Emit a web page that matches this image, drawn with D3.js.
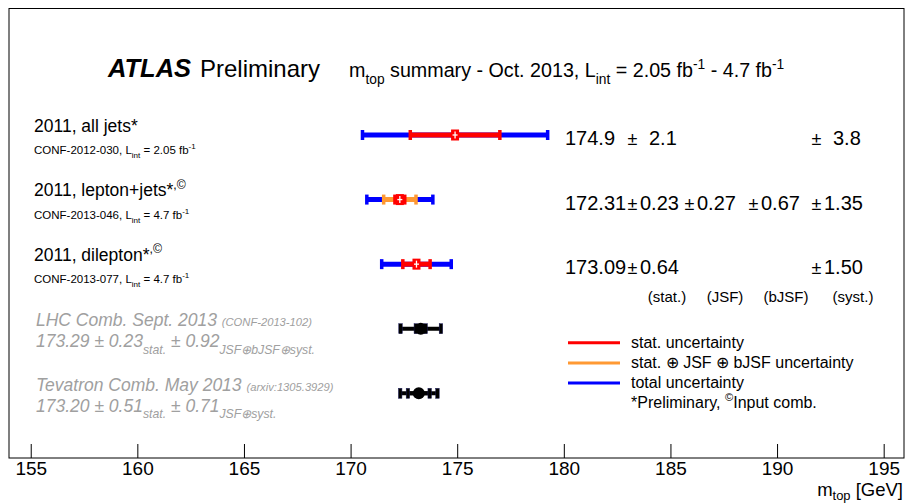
<!DOCTYPE html>
<html>
<head>
<meta charset="utf-8">
<script src="https://cdn.jsdelivr.net/npm/d3@7"></script>
<style>
  html, body { margin: 0; padding: 0; background: #fff; }
  svg { display: block; font-family: "Liberation Sans", Arial, Helvetica, sans-serif; }
</style>
</head>
<body>
<svg id="chart" width="906" height="504"></svg>
<script>
// ---------------- DATA ----------------
const measNames   = ["2011, all jets", "2011, lepton+jets", "2011, dilepton"];
const measMarks   = ["*", "*", "*"];
const measSup     = ["", ",©", ",©"];
const measRefs    = ["CONF-2012-030", "CONF-2013-046", "CONF-2013-077"];
const measLumi    = ["2.05", "4.7", "4.7"];
const measCentral = [174.9, 172.31, 173.09];
const measStat    = [2.1, 0.23, 0.64];
const measJSF     = [null, 0.27, null];
const measBJSF    = [null, 0.67, null];
const measSyst    = [3.8, 1.35, 1.50];
const measDecimals = [1, 2, 2];

const comboNames    = ["LHC Comb. Sept. 2013", "Tevatron Comb. May 2013"];
const comboRefs     = ["(CONF-2013-102)", "(arxiv:1305.3929)"];
const comboCentral  = [173.29, 173.20];
const comboStat     = [0.23, 0.51];
const comboSyst     = [0.92, 0.71];
const comboSystLbl  = ["JSF⊕bJSF⊕syst.", "JSF⊕syst."];

const columnLabels = ["(stat.)", "(JSF)", "(bJSF)", "(syst.)"];
const xTicks = [155, 160, 165, 170, 175, 180, 185, 190, 195];
const legendLabels = ["stat. uncertainty", "stat. ⊕ JSF ⊕ bJSF uncertainty", "total uncertainty"];

// ---------------- SETUP ----------------
const svg = d3.select("#chart");
const RED = "#ff0000", ORANGE = "#ff9933", BLUE = "#0000ff", GRAY = "#a0a0a0";

svg.append("rect").attr("width", 906).attr("height", 504).attr("fill", "#fff");

const x = d3.scaleLinear().domain([154, 196]).range([9.4, 905]);
const rowY = d3.scalePoint().domain([0, 1, 2, 3, 4]).range([135, 393.3]);

// rich text helper: parts = [[text, mode, sizeFactor]]
function rich(sel, parts, base, subOff) {
  let cur = 0;
  parts.forEach(p => {
    const [t, mode, sf] = p;
    let off = 0, size = base;
    if (mode === "sub") { off = (subOff || 0.36) * base; size = base * (sf || 0.7); }
    else if (mode === "sup") { off = -0.42 * base; size = base * (sf || 0.7); }
    else if (sf) size = base * sf;
    sel.append("tspan").attr("dy", off - cur).attr("font-size", size).text(t);
    cur = off;
  });
  return sel;
}

// ---------------- FRAME & AXIS ----------------
svg.append("rect").attr("x", 9).attr("y", 8.5).attr("width", 895).attr("height", 449.5)
  .attr("fill", "none").attr("stroke", "#000").attr("stroke-width", 1);

const axis = d3.axisBottom(x).tickValues(xTicks).tickSize(-14).tickSizeOuter(0).tickPadding(4)
  .tickFormat(d3.format("d"));
const gAxis = svg.append("g").attr("transform", "translate(0,458)").call(axis);
gAxis.select(".domain").remove();
gAxis.selectAll(".tick line").attr("stroke", "#000").attr("stroke-width", 1);
gAxis.selectAll(".tick text").attr("font-size", 19).attr("fill", "#000")
  .attr("font-family", "Liberation Sans, Arial, sans-serif");

rich(svg.append("text").attr("x", 903).attr("y", 496).attr("text-anchor", "end").attr("fill", "#000"),
  [["m"], ["top", "sub"], [" [GeV]"]], 18.5, 0.22);

// ---------------- TITLE ----------------
svg.append("text").attr("x", 108).attr("y", 77).attr("font-size", 25.5).attr("font-weight", "bold")
  .attr("font-style", "italic").attr("fill", "#000").text("ATLAS");
svg.append("text").attr("x", 200).attr("y", 77).attr("font-size", 24).attr("fill", "#000").text("Preliminary");
rich(svg.append("text").attr("x", 349).attr("y", 77).attr("fill", "#000"),
  [["m"], ["top", "sub"], [" summary - Oct. 2013, L"], ["int", "sub"], [" = 2.05 fb"], ["-1", "sup"],
   [" - 4.7 fb"], ["-1", "sup"]], 19.7);

// ---------------- MEASUREMENTS ----------------
function errBar(g, c, e, y, color, lw, capW, capH) {
  g.append("line").attr("x1", x(c - e)).attr("x2", x(c + e)).attr("y1", y).attr("y2", y)
    .attr("stroke", color).attr("stroke-width", lw);
  [c - e, c + e].forEach(v => {
    g.append("rect").attr("x", x(v) - capW / 2).attr("y", y - capH / 2)
      .attr("width", capW).attr("height", capH).attr("fill", color);
  });
}

const pmX = [627, 684, 748, 811];
const parenX = [667, 725, 786, 853];

measNames.forEach((name, i) => {
  const y = rowY(i);
  const g = svg.append("g");
  const c = measCentral[i], s = measStat[i];
  const j = measJSF[i] || 0, b = measBJSF[i] || 0, sy = measSyst[i];
  const inner = Math.sqrt(s * s + j * j + b * b);
  const tot = Math.sqrt(inner * inner + sy * sy);
  errBar(g, c, tot, y, BLUE, 5, 3.5, 10);
  if (measJSF[i] !== null) errBar(g, c, inner, y, ORANGE, 5, 3.5, 10);
  errBar(g, c, s, y, RED, 5, 3.5, 10);
  // marker
  g.append("rect").attr("x", x(c) - 4).attr("y", y - 5.5).attr("width", 8).attr("height", 11).attr("fill", RED);
  g.append("line").attr("x1", x(c) - 2.5).attr("x2", x(c) + 2.5).attr("y1", y).attr("y2", y)
    .attr("stroke", "#fff").attr("stroke-width", 1.3);
  g.append("line").attr("x1", x(c)).attr("x2", x(c)).attr("y1", y - 3.5).attr("y2", y + 3.5)
    .attr("stroke", "#fff").attr("stroke-width", 1.3);

  // left labels
  const parts = [[name], [measMarks[i]]];
  if (measSup[i]) parts.push([measSup[i], "sup"]);
  rich(svg.append("text").attr("x", 34).attr("y", y - 3.5).attr("fill", "#000"), parts, 17.5);
  rich(svg.append("text").attr("x", 34).attr("y", y + 19).attr("fill", "#000"),
    [[measRefs[i] + ", L"], ["int", "sub"], [" = " + measLumi[i] + " fb"], ["-1", "sup"]], 11.5);

  // right numbers
  const fmt = d3.format("." + measDecimals[i] + "f");
  const gap = measDecimals[i] === 1 ? 22 : 13;
  const ty = y + 10;
  svg.append("text").attr("x", 565).attr("y", ty).attr("font-size", 20).attr("fill", "#000").text(fmt(c));
  [measStat[i], measJSF[i], measBJSF[i], measSyst[i]].forEach((v, k) => {
    if (v === null) return;
    svg.append("text").attr("x", pmX[k] + 0.5).attr("y", ty).attr("font-size", 18).attr("fill", "#000").text("±");
    svg.append("text").attr("x", pmX[k] + gap).attr("y", ty).attr("font-size", 20).attr("fill", "#000").text(fmt(v));
  });
});

columnLabels.forEach((t, k) => {
  svg.append("text").attr("x", parenX[k]).attr("y", rowY(2) + 38).attr("text-anchor", "middle")
    .attr("font-size", 15).attr("fill", "#000").text(t);
});

// ---------------- COMBINATIONS ----------------
comboNames.forEach((name, i) => {
  const y = rowY(3 + i);
  const g = svg.append("g");
  const c = comboCentral[i], s = comboStat[i], sy = comboSyst[i];
  const tot = Math.sqrt(s * s + sy * sy);
  errBar(g, c, tot, y, "#000", 4, 3.5, 10);
  errBar(g, c, s, y, "#000", 4, 3.5, 10);
  g.selectAll("rect").attr("stroke", "#1a1a5a").attr("stroke-width", 0.5);
  g.append("circle").attr("cx", x(c)).attr("cy", y).attr("r", 6).attr("fill", "#000");

  const t1 = svg.append("text").attr("x", 36).attr("y", y - 2.5).attr("fill", GRAY).attr("font-style", "italic");
  rich(t1, [[name + " "], [comboRefs[i], null, 0.64]], 17.5);
  rich(svg.append("text").attr("x", 36).attr("y", y + 18.5).attr("fill", GRAY).attr("font-style", "italic"),
    [[d3.format(".2f")(c) + " ± " + d3.format(".2f")(s)], ["stat.", "sub"],
     [" ± " + d3.format(".2f")(sy)], [comboSystLbl[i], "sub"]], 17.5);
});

// ---------------- LEGEND ----------------
const legColors = [RED, ORANGE, BLUE];
const legY = d3.scalePoint().domain([0, 1, 2, 3]).range([342.7, 403.3]);
legendLabels.forEach((t, k) => {
  svg.append("line").attr("x1", 568).attr("x2", 620).attr("y1", legY(k)).attr("y2", legY(k))
    .attr("stroke", legColors[k]).attr("stroke-width", 3);
  svg.append("text").attr("x", 631).attr("y", legY(k) + 5).attr("font-size", 16).attr("fill", "#000").text(t);
});
rich(svg.append("text").attr("x", 631).attr("y", legY(3) + 4.5).attr("fill", "#000"),
  [["*Preliminary, "], ["©", "sup"], ["Input comb."]], 16);
</script>
</body>
</html>
